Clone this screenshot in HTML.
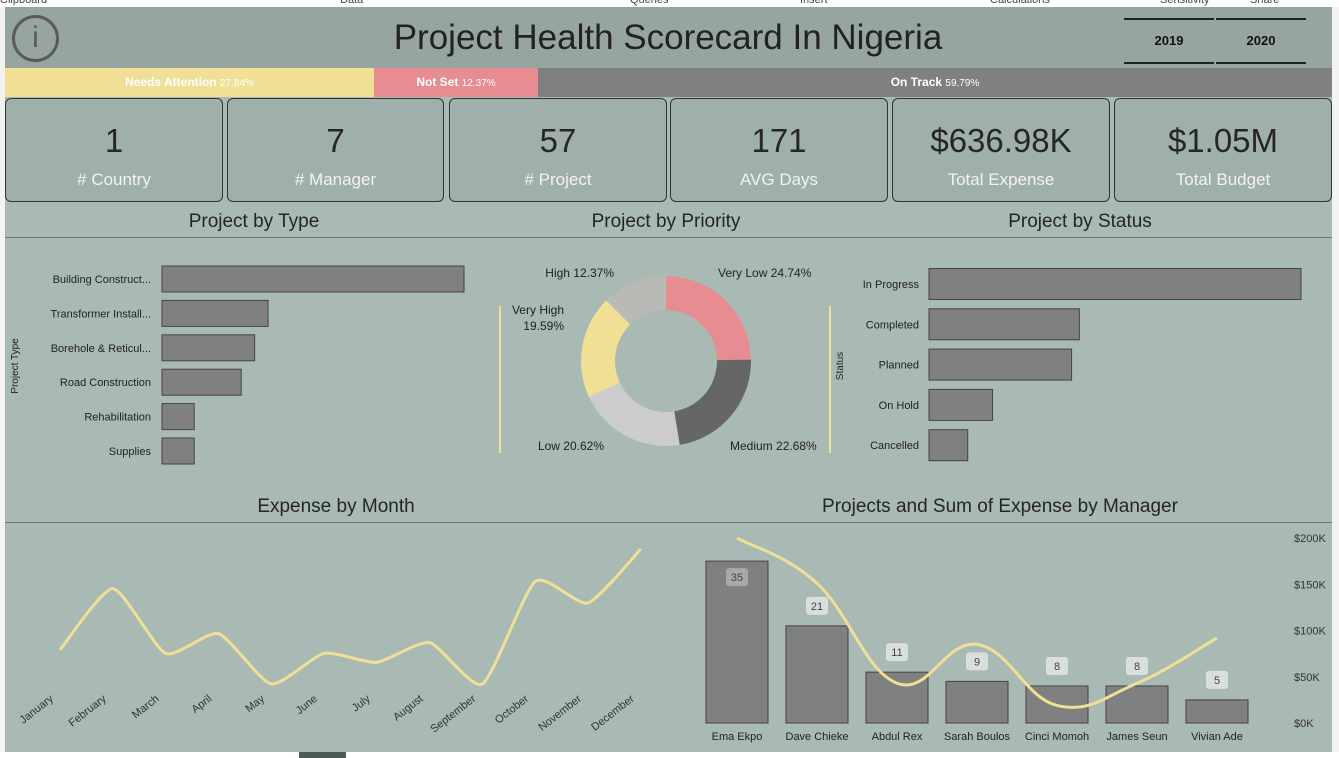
<!DOCTYPE html>
<html><head><meta charset="utf-8">
<style>
*{margin:0;padding:0;box-sizing:border-box}
body{width:1339px;height:758px;overflow:hidden;background:#f3f3f3;font-family:"Liberation Sans",sans-serif;position:relative}
.abs{position:absolute}
.card{position:absolute;top:98px;height:104px;background:#9fafab;border:1px solid #333;border-radius:6px;text-align:center}
.card .num{position:absolute;left:0;right:0;top:23px;font-size:33px;color:#262626}
.card .lab{position:absolute;left:0;right:0;top:71px;font-size:17px;color:#f2f2f2}
.title{position:absolute;font-size:19px;color:#252525;transform:translateX(-50%);white-space:nowrap}
</style></head><body>
<div class="abs" style="left:0;top:0;width:1339px;height:7px;background:#fff;font-size:11px;color:#444;overflow:hidden;line-height:0">
<span class="abs" style="left:0;top:0">Clipboard</span><span class="abs" style="left:340px;top:0">Data</span><span class="abs" style="left:630px;top:0">Queries</span><span class="abs" style="left:800px;top:0">Insert</span><span class="abs" style="left:990px;top:0">Calculations</span><span class="abs" style="left:1160px;top:0">Sensitivity</span><span class="abs" style="left:1250px;top:0">Share</span></div>
<div class="abs" style="left:5px;top:7px;width:1327px;height:745px;background:#a9b9b4"></div>
<div class="abs" style="left:5px;top:7px;width:1327px;height:61px;background:#97a59f"></div>
<div class="abs" style="left:12px;top:15px;width:47px;height:47px;border:3px solid #5a5a5a;border-radius:50%;text-align:center;font-size:30px;line-height:40px;color:#5a5a5a;font-weight:300">i</div>
<div class="title" style="left:668px;top:18px;font-size:35px;color:#222">Project Health Scorecard In Nigeria</div>
<div class="abs" style="left:1124px;top:18px;width:90px;height:46px;border-top:2px solid #222;border-bottom:2px solid #222;text-align:center;line-height:42px;font-weight:bold;font-size:13px;color:#111">2019</div>
<div class="abs" style="left:1216px;top:18px;width:90px;height:46px;border-top:2px solid #222;border-bottom:2px solid #222;text-align:center;line-height:42px;font-weight:bold;font-size:13px;color:#111">2020</div>
<div class="abs" style="left:5px;top:68px;width:369px;height:29px;background:#efe096;color:#fff;font-size:12px;text-align:center;line-height:29px"><b>Needs Attention</b> <span style="font-size:10px">27.84%</span></div>
<div class="abs" style="left:374px;top:68px;width:164px;height:29px;background:#e78d92;color:#fff;font-size:12px;text-align:center;line-height:29px"><b>Not Set</b> <span style="font-size:10px">12.37%</span></div>
<div class="abs" style="left:538px;top:68px;width:794px;height:29px;background:#808080;color:#fff;font-size:12px;text-align:center;line-height:29px"><b>On Track</b> <span style="font-size:10px">59.79%</span></div>
<div class="card" style="left:5px;width:218px"><div class="num">1</div><div class="lab"># Country</div></div>
<div class="card" style="left:227px;width:217px"><div class="num">7</div><div class="lab"># Manager</div></div>
<div class="card" style="left:449px;width:218px"><div class="num">57</div><div class="lab"># Project</div></div>
<div class="card" style="left:670px;width:218px"><div class="num">171</div><div class="lab">AVG Days</div></div>
<div class="card" style="left:892px;width:218px"><div class="num">$636.98K</div><div class="lab">Total Expense</div></div>
<div class="card" style="left:1114px;width:218px"><div class="num">$1.05M</div><div class="lab">Total Budget</div></div>
<div class="title" style="left:254px;top:211px">Project by Type</div>
<div class="title" style="left:666px;top:211px">Project by Priority</div>
<div class="title" style="left:1080px;top:211px">Project by Status</div>
<div class="title" style="left:336px;top:496px">Expense by Month</div>
<div class="title" style="left:1000px;top:496px">Projects and Sum of Expense by Manager</div>
<div class="abs" style="left:0;top:752px;width:1339px;height:6px;background:#fff"><div class="abs" style="left:299px;top:0;width:47px;height:6px;background:#4d5b56"></div></div>
<svg class="abs" style="left:0;top:0" width="1339" height="758" font-family="Liberation Sans, sans-serif" id="svg">
<line x1="5" y1="237.5" x2="1332" y2="237.5" stroke="#6d7773" stroke-width="1"/>
<line x1="5" y1="522.5" x2="1332" y2="522.5" stroke="#6d7773" stroke-width="1"/>
<line x1="500" y1="306" x2="500" y2="453" stroke="#efe096" stroke-width="2"/>
<line x1="830" y1="306" x2="830" y2="453" stroke="#efe096" stroke-width="2"/>
<text x="18" y="366" font-size="10" fill="#222" transform="rotate(-90 18 366)" text-anchor="middle">Project Type</text>
<text x="843" y="366" font-size="10" fill="#222" transform="rotate(-90 843 366)" text-anchor="middle">Status</text>
</svg>
<script>
const NS='http://www.w3.org/2000/svg';
const svg=document.getElementById('svg');
function mk(tag,attrs,parent){const e=document.createElementNS(NS,tag);for(const k in attrs)e.setAttribute(k,attrs[k]);(parent||svg).appendChild(e);return e;}

// Project by Type
const typeCats=['Building Construct...','Transformer Install...','Borehole & Reticul...','Road Construction','Rehabilitation','Supplies'];
const typeVals=[22.5,7.9,6.9,5.9,2.4,2.4];
// Project by Status
const statusCats=['In Progress','Completed','Planned','On Hold','Cancelled'];
const statusVals=[24,9.7,9.2,4.1,2.5];
// Priority
const prioCats=['Very Low','Medium','Low','Very High','High'];
const prioVals=[24.74,22.68,20.62,19.59,12.37];
// Expense by month ($K)
const months=['January','February','March','April','May','June','July','August','September','October','November','December'];
const monthVals=[39,73,37,48,20,37,32,43,20,77,65,95];
// Manager chart
const managers=['Ema Ekpo','Dave Chieke','Abdul Rex','Sarah Boulos','Cinci Momoh','James Seun','Vivian Ade'];
const mgrProjects=[35,21,11,9,8,8,5];
const mgrExpense=[200,151,43,85,19,43,92];
const expTicks=[0,50,100,150,200];

const tx=v=>162+v*(302/22.5);
typeCats.forEach((c,i)=>{const cy=279+i*34.4;
 let r=mk('rect',{x:162,y:cy-13,width:tx(typeVals[i])-162,height:26,fill:'#808080',stroke:'#444','stroke-width':1});
 
 
 let t=mk('text',{x:151,y:cy+4,'font-size':11,fill:'#222','text-anchor':'end'});t.textContent=c;
 
 
});
const sx=v=>929+v*(372/24);
statusCats.forEach((c,i)=>{const cy=284+i*40.3;
 let r=mk('rect',{x:929,y:cy-15.5,width:sx(statusVals[i])-929,height:31,fill:'#808080',stroke:'#444','stroke-width':1});
 
 
 let t=mk('text',{x:919,y:cy+4,'font-size':11,fill:'#222','text-anchor':'end'});t.textContent=c;
 
 
});
const cx=666,cy=361,R=85,r0=51;
const pcol=['#e78d92','#666666','#cccccc','#efe096','#b9bab6'];
const tot=prioVals.reduce((a,b)=>a+b,0);
let a0=-Math.PI/2;
const labPos=[[718,277,'start'],[730,450,'start'],[604,450,'end'],[564,314,'end'],[614,277,'end']];
prioVals.forEach((v,i)=>{const a1=a0+v/tot*2*Math.PI;const lg=(a1-a0)>Math.PI?1:0;
 const p=(a,rr)=>[cx+rr*Math.cos(a),cy+rr*Math.sin(a)];
 const [x1,y1]=p(a0,R),[x2,y2]=p(a1,R),[x3,y3]=p(a1,r0),[x4,y4]=p(a0,r0);
 let s=mk('path',{d:`M${x1},${y1}A${R},${R} 0 ${lg} 1 ${x2},${y2}L${x3},${y3}A${r0},${r0} 0 ${lg} 0 ${x4},${y4}Z`,fill:pcol[i]});
 
 
 const lp=labPos[i];
 if(i===3){let t=mk('text',{x:lp[0],y:lp[1],'font-size':12,fill:'#222','text-anchor':'end'});t.textContent=prioCats[i];
  let t2=mk('text',{x:lp[0],y:lp[1]+16,'font-size':12,fill:'#222','text-anchor':'end'});t2.textContent=v.toFixed(2)+'%';
  
 }else{let t=mk('text',{x:lp[0],y:lp[1],'font-size':12,fill:'#222','text-anchor':lp[2]});t.textContent=prioCats[i]+' '+v.toFixed(2)+'%';
  
  }
 a0=a1;});
function smooth(pts,t){let d=`M${pts[0][0]},${pts[0][1]}`;for(let i=0;i<pts.length-1;i++){const p0=pts[i-1]||pts[i],p1=pts[i],p2=pts[i+1],p3=pts[i+2]||p2;
 d+=`C${p1[0]+(p2[0]-p0[0])*t},${p1[1]+(p2[1]-p0[1])*t} ${p2[0]-(p3[0]-p1[0])*t},${p2[1]-(p3[1]-p1[1])*t} ${p2[0]},${p2[1]}`;}return d;}
const mx=i=>60+i*52.8, my=v=>720-v*1.8;
const mpts=monthVals.map((v,i)=>[mx(i),my(v)]);
let ml=mk('path',{d:smooth(mpts,0.1),fill:'none',stroke:'#efe096','stroke-width':3});


months.forEach((m,i)=>{const x=mx(i)-6,y=700;let t=mk('text',{x:x,y:y,'font-size':11,fill:'#333','text-anchor':'end',transform:`rotate(-38 ${x} ${y})`});t.textContent=m;
 
 });
const bx=i=>706+i*80, base=723, ey=v=>base-v*0.925, cyc=v=>base-v*(185/40);
expTicks.forEach(v=>{let t=mk('text',{x:1294,y:ey(v)+4,'font-size':11,fill:'#333'});t.textContent='$'+v+'K';
 
 });
managers.forEach((m,i)=>{const top=cyc(mgrProjects[i]);
 let r=mk('rect',{x:bx(i),y:top,width:62,height:base-top,fill:'#808080',stroke:'#444','stroke-width':1});
 
 
 let t=mk('text',{x:bx(i)+31,y:740,'font-size':11,fill:'#222','text-anchor':'middle'});t.textContent=m;
 
 
 const inside=mgrProjects[i]>=30;const ly=inside?top+16:top-20;
 let b=mk('rect',{x:bx(i)+31-11,y:ly-9,width:22,height:18,rx:3,fill:inside?'#a8a8a8':'#d8dfdd'});
 
 
 let lt=mk('text',{x:bx(i)+31,y:ly+4,'font-size':11,fill:'#444','text-anchor':'middle'});lt.textContent=mgrProjects[i];
});
const epts=mgrExpense.map((v,i)=>[bx(i)+31,ey(v)]);
let el=mk('path',{d:smooth(epts,0.2),fill:'none',stroke:'#efe096','stroke-width':3});


</script>
</body></html>
